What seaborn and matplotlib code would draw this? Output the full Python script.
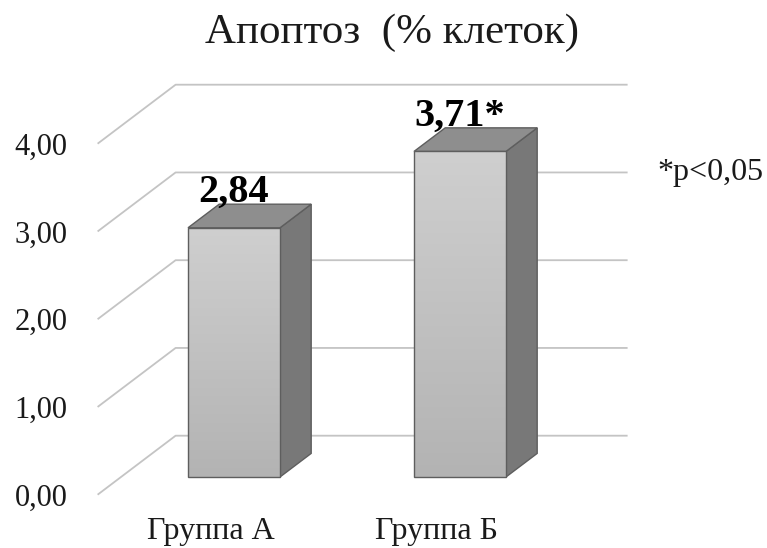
import numpy as np
import pandas as pd
import matplotlib
matplotlib.use("Agg")
import matplotlib.pyplot as plt
import seaborn as sns
from matplotlib.patches import Polygon
from matplotlib.colors import LinearSegmentedColormap

# ---- data ----
groups = ["Группа А", "Группа Б"]
values = [2.84, 3.71]
value_labels = ["2,84", "3,71*"]
tick_values = [0, 1, 2, 3, 4]
tick_labels = ["0,00", "1,00", "2,00", "3,00", "4,00"]
title = "Апоптоз  (% клеток)"
note = "*p<0,05"

sns.set_style("white")
plt.rcParams["font.family"] = ["Liberation Serif", "DejaVu Serif"]

W, H = 767, 548
fig = plt.figure(figsize=(W / 100, H / 100), dpi=100)
ax = fig.add_axes([0, 0, 1, 1])

df = pd.DataFrame({"group": groups, "value": values})
sns.barplot(data=df, x="group", y="value", width=0.407, color="#c2c2c2",
            edgecolor="#5e5e5e", linewidth=1.0, ax=ax, zorder=3,
            errorbar=None)

# layout scale (pixels per data unit)
PX_X, PX_Y = 226.0, 87.75
X0_PX, Y0_PX = 234.0, 477.0
XLIM = (-X0_PX / PX_X, (W - X0_PX) / PX_X)
YLIM = (-(H - Y0_PX) / PX_Y, Y0_PX / PX_Y)

# 3D depth vector (full box depth) in data units
DX, DY = 78 / PX_X, 59 / PX_Y
D_FRONT, D_BACK = 0.3, 0.7


def P(x, v, d):
    return (x + (d - D_FRONT) * DX, v + (d - D_FRONT) * DY)


n = len(groups)
left, right = -0.5, n - 0.5
grid_col = "#c4c4c4"
for v, lab in zip(tick_values, tick_labels):
    pts = [P(left, v, 0), P(left, v, 1), P(right, v, 1)]
    ax.plot([p[0] for p in pts], [p[1] for p in pts], color=grid_col,
            lw=1.3, zorder=1, solid_capstyle="butt")
    fx, fy = P(left, v, 0)
    ax.text(fx - 30 / PX_X, fy, lab, ha="right", va="center_baseline",
            fontsize=22, color="#1a1a1a")

front_cmap = LinearSegmentedColormap.from_list("front", ["#cfcfcf", "#b3b3b3"])
grad = np.linspace(0, 1, 256).reshape(-1, 1)
ddx, ddy = (D_BACK - D_FRONT) * DX, (D_BACK - D_FRONT) * DY

for patch, lab in zip(list(ax.patches), value_labels):
    x0, w, h = patch.get_x(), patch.get_width(), patch.get_height()
    im = ax.imshow(grad, extent=[x0, x0 + w, 0, h], cmap=front_cmap,
                   aspect="auto", zorder=3.5, interpolation="bilinear")
    im.set_clip_path(patch)
    patch.set_facecolor("none")
    patch.set_zorder(4)
    side = Polygon([(x0 + w, 0), (x0 + w + ddx, ddy), (x0 + w + ddx, h + ddy),
                    (x0 + w, h)], closed=True, facecolor="#787878",
                   edgecolor="#5e5e5e", lw=1.0, zorder=3)
    top = Polygon([(x0, h), (x0 + ddx, h + ddy), (x0 + w + ddx, h + ddy),
                   (x0 + w, h)], closed=True, facecolor="#8e8e8e",
                  edgecolor="#5e5e5e", lw=1.0, zorder=3)
    ax.add_patch(side)
    ax.add_patch(top)
    ax.text(x0 + w / 2, h + ddy + 2 / PX_Y, lab, ha="center", va="baseline",
            fontsize=29, fontweight="bold", color="black", zorder=6)

for i, g in enumerate(groups):
    cx, cy = P(i, 0, 0)
    ax.text(cx, cy - 44 / PX_Y, g, ha="center", va="baseline", fontsize=23,
            color="#1a1a1a")

ax.set_xlim(*XLIM)
ax.set_ylim(*YLIM)
ax.axis("off")

fig.text(392 / W, 1 - 43 / H, title, ha="center", va="baseline",
         fontsize=31, color="#1a1a1a")
fig.text(657 / W, 1 - 180 / H, note, ha="left", va="baseline",
         fontsize=23, color="#1a1a1a")

fig.savefig("out.png", dpi=100)
